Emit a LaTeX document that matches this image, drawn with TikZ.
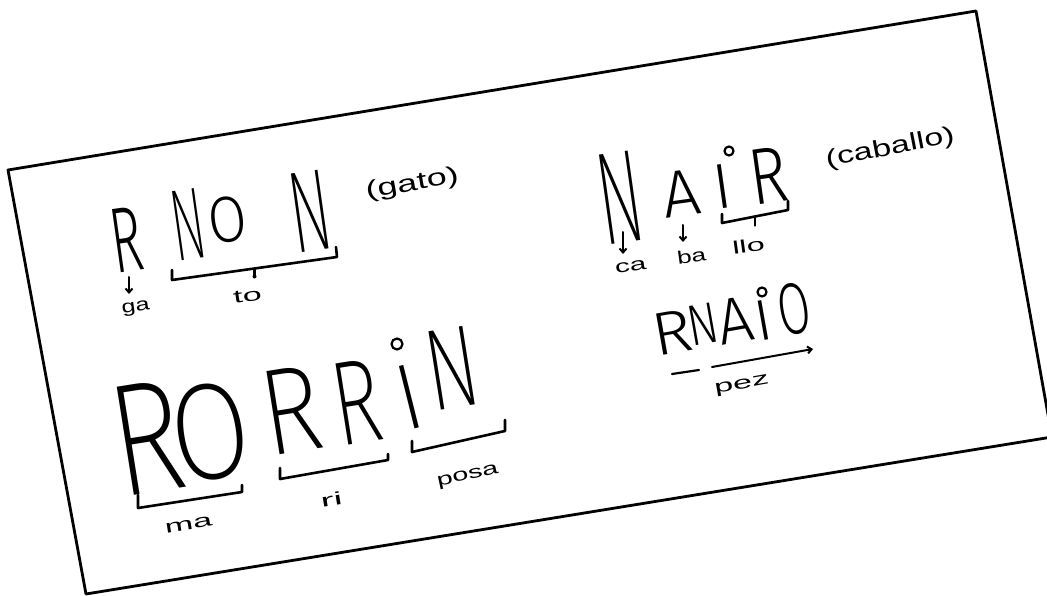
\documentclass[tikz,border=0pt]{standalone}
\usepackage{fontspec}
\setmainfont{Liberation Sans}
\newfontfamily\handfont{Fira Sans Light}
\newfontfamily\handthin{Fira Sans ExtraLight}
\usetikzlibrary{arrows.meta,calc}
\tikzset{
  pen/.style={line width=2.6pt, line cap=round, line join=round, draw=black},
  cardline/.style={line width=2.8pt, line join=round, draw=black},
  bigl/.style={font=\handfont\fontsize{100}{100}\selectfont, inner sep=0pt, anchor=center},
  bigx/.style={font=\handthin\fontsize{100}{100}\selectfont, inner sep=0pt, anchor=center},
  lab/.style={font=\fontsize{18}{18}\selectfont, inner sep=1pt, anchor=mid},
  labbig/.style={font=\fontsize{24}{24}\selectfont, inner sep=1pt, anchor=mid},
  arr/.style={line width=2pt, line cap=round, draw=black, -{Straight Barb[length=4pt,width=7pt]}},
  ring/.style={draw=black, line width=2.2pt, circle, minimum size=9pt, inner sep=0pt},
  tickdot/.style={circle, fill=black, inner sep=0pt, minimum size=4pt}
}
\begin{document}
\begin{tikzpicture}[x=1pt,y=-1pt]
\useasboundingbox (0,0) rectangle (1047,596);
\clip (0,0) rectangle (1047,596);
% card
\coordinate (cTL) at (8,170);
\coordinate (cTR) at (976,11);
\coordinate (cBR) at (1052,437);
\coordinate (cBL) at (86,594);
\draw[cardline] (cTL) -- (cTR) -- (cBR) -- (cBL) -- cycle;

% ---------- RNON (gato)
\node[rotate=8, bigl, xscale=0.53, yscale=0.93] (rnonR) at (127,240) {R};
\node[rotate=8, bigx, xscale=0.50, yscale=1.02] (rnonN) at (188,225) {N};
\node[rotate=8, bigl, xscale=0.56, yscale=0.65] (rnonO) at (228,220) {O};
\node[rotate=8, bigx, xscale=0.61, yscale=1.16] (rnonN2) at (310,211) {N};
\node[rotate=10, labbig, xscale=1.5] (gato) at (413,188) {(gato)};
\node[rotate=8, lab, xscale=1.4] (ga) at (136,309) {ga};
\node[rotate=8, lab, xscale=1.9] (to) at (248,299) {to};
\coordinate (gaA) at (129,277);
\coordinate (gaB) at (129,294);
\draw[arr] (gaA) -- (gaB);
\coordinate (nonA) at (172,270);
\coordinate (nonB) at (172,280);
\coordinate (nonC) at (337,257);
\coordinate (nonD) at (336,247);
\draw[pen] (nonA) -- (nonB) -- (nonC) -- (nonD);
\coordinate (nonM) at ($(nonB)!0.5!(nonC)$);
\coordinate (nonT) at ($(nonM)+(0,8)$);
\draw[pen] (nonM) -- (nonT);
\node[tickdot] (nonDot) at (nonT) {};

% ---------- NAIR (caballo)
\node[rotate=8, bigx, xscale=0.66, yscale=1.32] (nairN) at (620,198) {N};
\node[rotate=8, bigl, xscale=0.67, yscale=0.66] (nairA) at (681,193) {A};
\node[rotate=8, bigl, xscale=0.64, yscale=0.64] (nairI) at (722,187) {I};
\node[ring] (nairRing) at (729,151) {};
\node[rotate=8, bigl, xscale=0.64, yscale=0.80] (nairR) at (768,176) {R};
\node[rotate=11, labbig, xscale=1.42] (caballo) at (891,152) {(caballo)};
\node[rotate=8, lab, xscale=1.65] (ca) at (631,269) {ca};
\node[rotate=8, lab, xscale=1.45] (ba) at (692,260) {ba};
\node[rotate=8, lab, xscale=1.8] (llo) at (749,250) {llo};
\coordinate (caA) at (623,232);
\coordinate (caB) at (623,254);
\draw[arr] (caA) -- (caB);
\coordinate (baA) at (683,225);
\coordinate (baB) at (683,242);
\draw[arr] (baA) -- (baB);
\coordinate (irA) at (722,214);
\coordinate (irB) at (722,223);
\coordinate (irC) at (788,210);
\coordinate (irD) at (788,201);
\draw[pen] (irA) -- (irB) -- (irC) -- (irD);
\coordinate (irM) at ($(irB)!0.5!(irC)$);
\coordinate (irT) at ($(irM)+(0,9)$);
\draw[pen] (irM) -- (irT);

% ---------- RNAIO (pez)
\node[rotate=10, bigl, xscale=0.67, yscale=0.61] (pzR) at (672,332) {R};
\node[rotate=10, bigl, xscale=0.45, yscale=0.58] (pzN) at (703,324) {N};
\node[rotate=10, bigl, xscale=0.63, yscale=0.65] (pzAA) at (735,320) {A};
\node[rotate=10, bigl, xscale=0.60, yscale=0.58] (pzI) at (763,320) {I};
\node[ring] (pzRing) at (762,292) {};
\node[rotate=10, bigl, xscale=0.47, yscale=0.73] (pzO) at (794,309) {O};
\node[rotate=10, lab, xscale=1.9] (pez) at (742,386) {pez};
\coordinate (pzA) at (672,374);
\coordinate (pzB) at (699,370);
\coordinate (pzC) at (712,367);
\coordinate (pzD) at (813,349);
\draw[pen, line width=2.2pt] (pzA) -- (pzB);
\draw[arr] (pzC) -- (pzD);

% ---------- RORRIN
\node[rotate=9, bigx, xscale=1.22, yscale=1.60] (roR) at (147,438) {R};
\node[rotate=9, bigx, xscale=1.15, yscale=1.37] (roO) at (210,432) {O};
\node[rotate=9, bigx, xscale=1.02, yscale=1.23] (roR2) at (291,410) {R};
\node[rotate=9, bigx, xscale=0.82, yscale=1.20] (roR3) at (357,402) {R};
\node[rotate=14, bigx, xscale=0.94, yscale=0.94] (roI) at (409,397) {I};
\node[ring, minimum size=11pt] (roRing) at (397,344) {};
\node[rotate=9, bigx, xscale=0.78, yscale=1.16] (roN) at (452,368) {N};
\node[rotate=9, lab, xscale=1.9] (ma) at (189,527) {ma};
\node[rotate=9, lab, xscale=2.2] (ri) at (332,503) {ri};
\node[rotate=12, lab, xscale=1.6] (posa) at (468,477) {posa};
\coordinate (maA) at (138,495);
\coordinate (maB) at (138,508);
\coordinate (maC) at (242,492);
\coordinate (maD) at (242,485);
\draw[pen] (maA) -- (maB) -- (maC) -- (maD);
\coordinate (riA) at (280,468);
\coordinate (riB) at (280,479);
\coordinate (riC) at (388,460);
\coordinate (riD) at (388,454);
\draw[pen] (riA) -- (riB) -- (riC) -- (riD);
\coordinate (psA) at (412,441);
\coordinate (psB) at (412,452);
\coordinate (psC) at (505,431);
\coordinate (psD) at (505,420);
\draw[pen] (psA) -- (psB) -- (psC) -- (psD);
\end{tikzpicture}
\end{document}
